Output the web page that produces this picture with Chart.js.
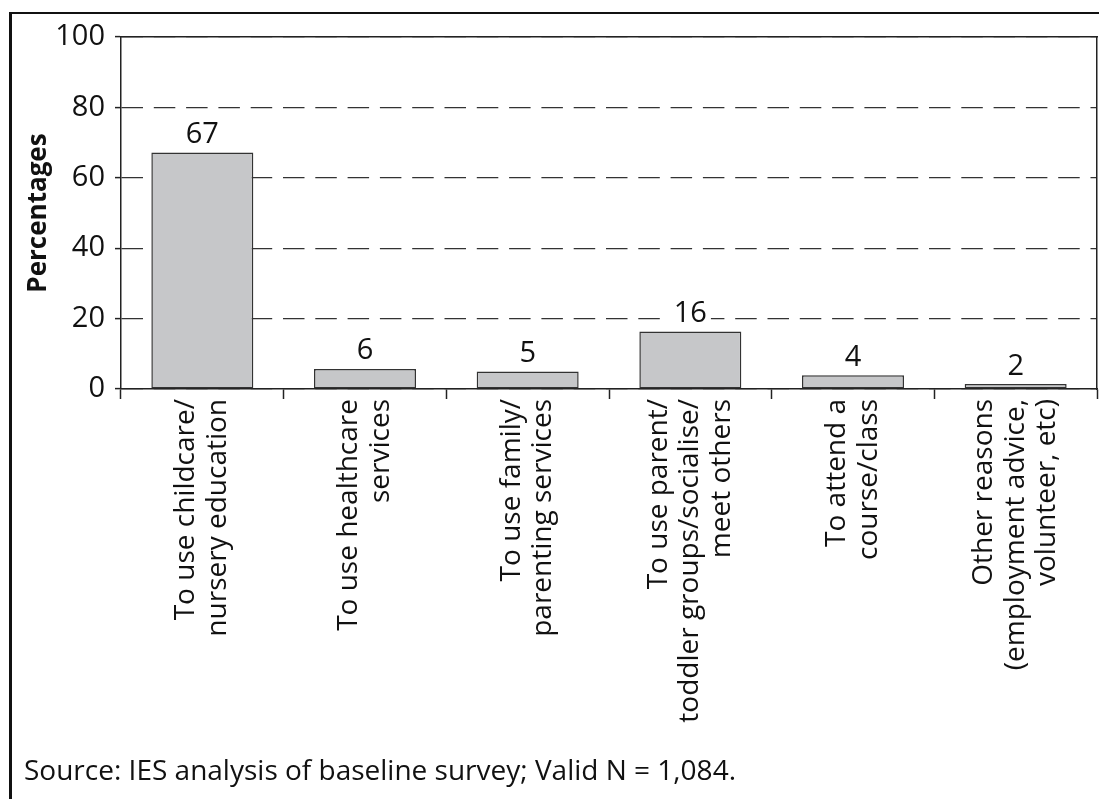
<!DOCTYPE html>
<html>
<head>
<meta charset="utf-8">
<script src="https://cdn.jsdelivr.net/npm/chart.js@4/dist/chart.umd.min.js"></script>
<style>
  html, body { margin: 0; padding: 0; background: #fff; overflow: hidden; width: 1099px; height: 799px; }
  #frame { position: absolute; left: 9px; top: 12px; width: 1200px; height: 900px;
           border-left: 3px solid #111; border-top: 2px solid #111; }
  #wrap { position: absolute; left: 0; top: 0; width: 1099px; height: 799px; }
  #source { position: absolute; left: 24px; top: 756px; font-family: "Open Sans", sans-serif;
            font-size: 28px; line-height: 27px; color: #111; white-space: nowrap; }
</style>
</head>
<body>
<div id="frame"></div>
<div id="wrap"><canvas id="c" width="1099" height="799"></canvas></div>
<div id="source">Source: IES analysis of baseline survey; Valid N = 1,084.</div>
<script>
const categories = [
  ['To use childcare/', 'nursery education'],
  ['To use healthcare', 'services'],
  ['To use family/', 'parenting services'],
  ['To use parent/', 'toddler groups/socialise/', 'meet others'],
  ['To attend a', 'course/class'],
  ['Other reasons', '(employment advice,', 'volunteer, etc)']
];
const values = [67.2, 5.7, 5.0, 16.3, 3.9, 1.4];
const valueLabels = ['67', '6', '5', '16', '4', '2'];
const yTicks = [0, 20, 40, 60, 80, 100];

const FONT = '"Open Sans", sans-serif';
const INK = '#111';

function noPad(s) { s.paddingLeft = 0; s.paddingRight = 0; s.paddingTop = 0; s.paddingBottom = 0; }

const centerMultiline = {
  id: 'centerMultiline',
  beforeDraw(chart) {
    const sc = chart.scales.x;
    const items = sc.getLabelItems(chart.chartArea);
    items.forEach(it => {
      if (it._centered) return;
      it._centered = true;
      if (Array.isArray(it.label)) {
        const n = it.label.length;
        it.textOffset -= (n - 1) * it.font.lineHeight / 2;
      }
    });
  }
};

const valueLabelPlugin = {
  id: 'valueLabelPlugin',
  afterDatasetsDraw(chart) {
    const ctx = chart.ctx;
    const meta = chart.getDatasetMeta(0);
    ctx.save();
    ctx.font = '29px ' + FONT;
    ctx.textAlign = 'center';
    ctx.textBaseline = 'alphabetic';
    meta.data.forEach((bar, i) => {
      const txt = valueLabels[i];
      const w = ctx.measureText(txt).width;
      const base = bar.y - 9.5;
      ctx.fillStyle = '#fff';
      ctx.fillRect(bar.x - w / 2 - 4, base - 23, w + 8, 26);
      ctx.fillStyle = INK;
      ctx.fillText(txt, bar.x, base);
    });
    ctx.restore();
  }
};

new Chart(document.getElementById('c'), {
  type: 'bar',
  data: {
    labels: categories,
    datasets: [{
      data: values,
      backgroundColor: '#c6c7c9',
      borderColor: '#333',
      borderWidth: 1.5,
      borderSkipped: false,
      categoryPercentage: 1.0,
      barPercentage: 0.627,
      xAxisID: 'x',
      yAxisID: 'y'
    }]
  },
  options: {
    responsive: false,
    animation: false,
    events: [],
    layout: { padding: { left: 0, top: 37, right: 2, bottom: 0 } },
    plugins: { legend: { display: false }, tooltip: { enabled: false }, title: { display: false } },
    scales: {
      x: {
        type: 'category',
        position: 'bottom',
        offset: true,
        grid: { display: true, drawOnChartArea: false, drawTicks: true, tickLength: 10,
                tickColor: '#222', tickWidth: 1.5, offset: true },
        border: { display: true, color: '#222', width: 1.5 },
        ticks: { autoSkip: false, maxRotation: 90, minRotation: 90, padding: 0, color: INK,
                 font: { family: FONT, size: 28, lineHeight: 1.13 } },
        afterFit(s) { s.height = 410; noPad(s); }
      },
      xTop: {
        type: 'category',
        position: 'top',
        labels: [],
        grid: { display: false },
        ticks: { display: false },
        border: { display: true, color: '#222', width: 1.5 },
        afterFit(s) { s.height = 0; noPad(s); }
      },
      y: {
        type: 'linear',
        position: 'left',
        min: 0,
        max: 100,
        afterBuildTicks(s) { s.ticks = yTicks.map(v => ({ value: v })); },
        grid: { display: true, drawOnChartArea: true, drawTicks: true, tickLength: 6,
                color: '#333', lineWidth: 1.2, tickColor: '#222', tickWidth: 1.5, tickBorderDash: [] },
        border: { display: true, color: '#222', width: 1.5, dash: [21.5, 10.8] },
        ticks: { padding: 10, color: INK, font: { family: FONT, size: 29 } },
        title: { display: true, text: 'Percentages', color: INK,
                 font: { family: FONT, size: 26, weight: 'bold' }, padding: { top: 23, bottom: 0 } },
        afterFit(s) { s.width = 121; noPad(s); }
      },
      yRight: {
        type: 'linear',
        position: 'right',
        min: 0,
        max: 100,
        grid: { display: false },
        ticks: { display: false },
        border: { display: true, color: '#222', width: 1.5 },
        afterFit(s) { s.width = 0; noPad(s); }
      }
    }
  },
  plugins: [centerMultiline, valueLabelPlugin]
});
</script>
</body>
</html>
